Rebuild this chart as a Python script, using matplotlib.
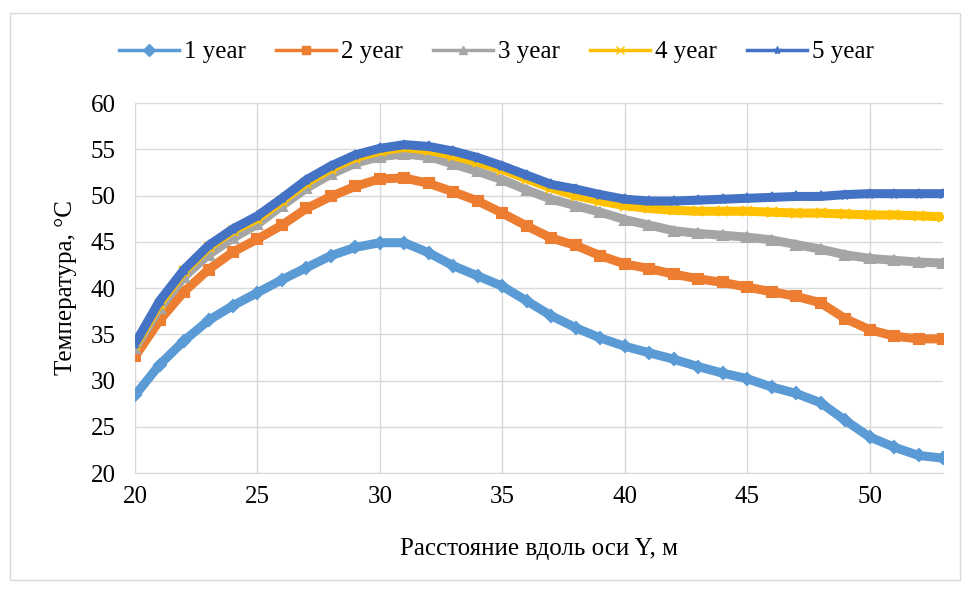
import matplotlib
matplotlib.use("Agg")
import matplotlib.pyplot as plt
from matplotlib.lines import Line2D
from matplotlib.patches import Rectangle

plt.rcParams['font.family'] = ['Liberation Serif', 'DejaVu Serif']

# distance along Y axis, m
dist = list(range(20, 54))

temp_y1 = [28.4, 31.7, 34.3, 36.5, 38.1, 39.5, 40.9, 42.2, 43.5, 44.4,
           44.9, 44.9, 43.8, 42.4, 41.3, 40.2, 38.6, 37.0, 35.7, 34.6,
           33.7, 33.0, 32.3, 31.5, 30.8, 30.2, 29.3, 28.6, 27.6, 25.7,
           23.9, 22.8, 21.9, 21.6]
temp_y2 = [32.6, 36.5, 39.6, 42.0, 43.9, 45.3, 46.8, 48.6, 49.9, 51.0,
           51.8, 51.9, 51.3, 50.4, 49.4, 48.1, 46.7, 45.4, 44.6, 43.5,
           42.6, 42.1, 41.5, 41.0, 40.6, 40.1, 39.6, 39.1, 38.4, 36.7,
           35.5, 34.8, 34.5, 34.5]
temp_y3 = [33.5, 37.8, 41.2, 43.6, 45.4, 46.9, 48.9, 50.8, 52.3, 53.5,
           54.2, 54.5, 54.2, 53.4, 52.6, 51.7, 50.6, 49.6, 48.9, 48.2,
           47.4, 46.8, 46.2, 45.9, 45.7, 45.5, 45.2, 44.7, 44.2, 43.6,
           43.2, 43.0, 42.8, 42.7]
temp_y4 = [33.8, 38.3, 41.8, 44.4, 46.2, 47.5, 49.4, 51.4, 52.9, 54.1,
           54.8, 55.2, 54.9, 54.3, 53.6, 52.8, 51.8, 50.8, 50.0, 49.4,
           48.9, 48.6, 48.4, 48.3, 48.3, 48.3, 48.2, 48.1, 48.1, 48.0,
           47.9, 47.9, 47.8, 47.7]
temp_y5 = [34.0, 38.6, 42.0, 44.6, 46.4, 47.8, 49.7, 51.7, 53.2, 54.4,
           55.1, 55.5, 55.3, 54.8, 54.1, 53.2, 52.2, 51.2, 50.7, 50.1,
           49.6, 49.4, 49.4, 49.5, 49.6, 49.7, 49.8, 49.9, 49.9, 50.1,
           50.2, 50.2, 50.2, 50.2]

labels = ["1 year", "2 year", "3 year", "4 year", "5 year"]
series = [temp_y1, temp_y2, temp_y3, temp_y4, temp_y5]
colors = ["#5B9BD5", "#ED7D31", "#A5A5A5", "#FFC000", "#4472C4"]
markers = ["D", "s", "^", "x", "*"]

fig = plt.figure(figsize=(9.73, 5.89), dpi=100)
ax = fig.add_axes([0.1388, 0.1969, 0.8304, 0.6282])

# chart area border
fig.patches.append(Rectangle((10 / 973, 9 / 589), 950 / 973, 567 / 589,
                             transform=fig.transFigure, fill=False,
                             edgecolor="#D9D9D9", lw=1))

for y, c, m in zip(series, colors, markers):
    ax.plot(dist, y, color=c, lw=6.5, marker=m, ms=6.5, mew=1.5,
            mec=c, mfc=c, solid_capstyle="butt", zorder=3)

ax.set_xlim(20, 53)
ax.set_ylim(20, 60)
ax.set_xticks(range(20, 55, 5))
ax.set_yticks(range(20, 65, 5))
ax.grid(True, color="#D9D9D9", lw=1)
ax.set_axisbelow(True)
for s in ["top", "right", "left"]:
    ax.spines[s].set_visible(False)
ax.spines["bottom"].set_color("#D9D9D9")
ax.tick_params(length=0, labelsize=18)
ax.tick_params(axis="x", pad=9)
ax.tick_params(axis="y", pad=14)

ax.set_xlabel("Расстояние вдоль оси Y, м", fontsize=18, labelpad=22)
ax.set_ylabel("Температура, °C", fontsize=18, labelpad=10)

handles = [Line2D([], [], color=c, lw=2.5, marker=m, ms=6, mec=c, mfc=c)
           for c, m in zip(colors, markers)]
fig.legend(handles, labels, loc="center", bbox_to_anchor=(0.51, 1 - 52 / 589),
           ncol=5, frameon=False, fontsize=18, handlelength=2.4,
           handletextpad=0.2, columnspacing=1.2)

fig.savefig("out.png", dpi=100)
